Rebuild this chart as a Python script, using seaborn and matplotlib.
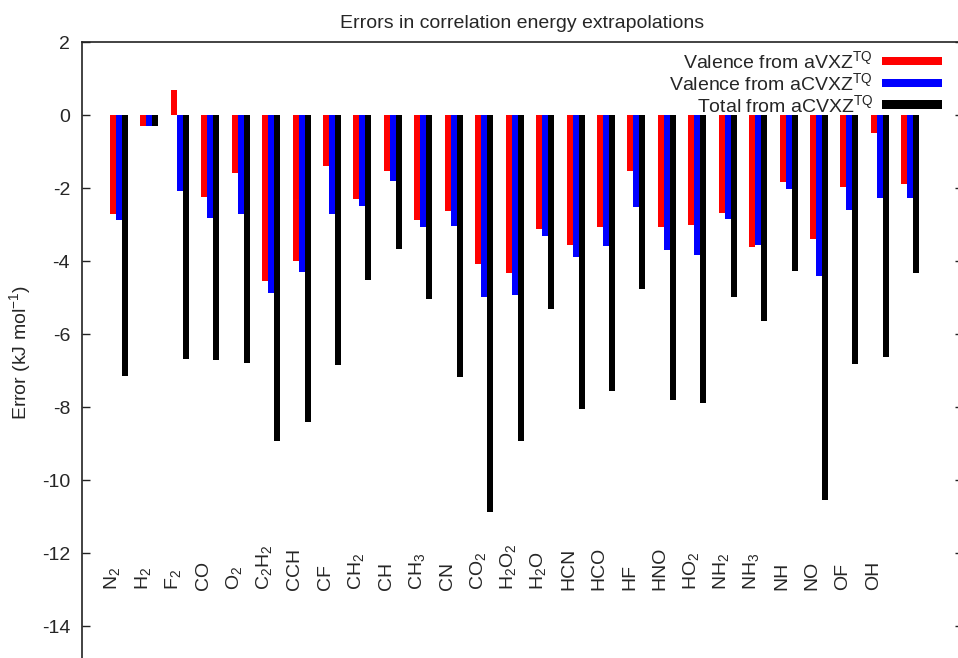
import pandas as pd
import seaborn as sns
import matplotlib.pyplot as plt

# molecules (last group has no label in the original)
molecules = ['N$_2$', 'H$_2$', 'F$_2$', 'CO', 'O$_2$', 'C$_2$H$_2$', 'CCH', 'CF',
             'CH$_2$', 'CH', 'CH$_3$', 'CN', 'CO$_2$', 'H$_2$O$_2$', 'H$_2$O', 'HCN',
             'HCO', 'HF', 'HNO', 'HO$_2$', 'NH$_2$', 'NH$_3$', 'NH', 'NO', 'OF', 'OH', '']

valence_avxz = [-2.70, -0.30, 0.68, -2.26, -1.59, -4.55, -4.00, -1.41, -2.29, -1.54,
                -2.88, -2.62, -4.09, -4.33, -3.12, -3.57, -3.07, -1.53, -3.07, -3.01,
                -2.69, -3.61, -1.83, -3.40, -1.97, -0.48, -1.89]
valence_acvxz = [-2.88, -0.30, -2.08, -2.82, -2.70, -4.87, -4.30, -2.70, -2.48, -1.82,
                 -3.06, -3.04, -4.98, -4.92, -3.32, -3.88, -3.60, -2.53, -3.70, -3.83,
                 -2.84, -3.57, -2.04, -4.41, -2.61, -2.27, -2.28]
total_acvxz = [-7.16, -0.30, -6.68, -6.72, -6.80, -8.94, -8.41, -6.84, -4.53, -3.68,
               -5.05, -7.18, -10.88, -8.92, -5.32, -8.05, -7.55, -4.78, -7.81, -7.89,
               -4.98, -5.65, -4.27, -10.55, -6.81, -6.64, -4.34]

series_names = [r'Valence from aVXZ$^{\rm TQ}$',
                r'Valence from aCVXZ$^{\rm TQ}$',
                r'Total from aCVXZ$^{\rm TQ}$']
colors = ['#ff0000', '#0000ff', '#000000']

# long format table
keys = [f'm{i}' for i in range(len(molecules))]
df = pd.DataFrame({
    'molecule': keys * 3,
    'error': valence_avxz + valence_acvxz + total_acvxz,
    'method': [series_names[0]] * len(keys) + [series_names[1]] * len(keys)
              + [series_names[2]] * len(keys),
})

sns.set_style('white')
plt.rcParams['font.family'] = ['Liberation Sans', 'DejaVu Sans']
plt.rcParams['mathtext.fontset'] = 'custom'
plt.rcParams['mathtext.rm'] = 'Liberation Sans'
plt.rcParams['mathtext.it'] = 'Liberation Sans:italic'
plt.rcParams['mathtext.bf'] = 'Liberation Sans:bold'
plt.rcParams['axes.unicode_minus'] = False

fs = 14

fig = plt.figure(figsize=(9.58, 6.58), dpi=100)
ax = fig.add_axes([0.0856, -0.00684, 0.9196, 0.943])

sns.barplot(data=df, x='molecule', y='error', hue='method', order=keys,
            hue_order=series_names, palette=colors, width=0.59, gap=0,
            saturation=1, errorbar=None, linewidth=0, ax=ax)

ax.set_xlim(-1.215, 27.73)
ax.set_ylim(-15, 2)
ax.set_yticks(range(-14, 3, 2))
ax.set_xticks([])
ax.set_xlabel('')
ax.set_ylabel('Error (kJ mol$^{-1}$)', fontsize=fs, labelpad=6)
ax.set_title('Errors in correlation energy extrapolations', fontsize=fs, pad=10)

ax.tick_params(axis='y', direction='in', length=5.8, width=1, labelsize=fs,
               pad=8.6, left=True, right=True, color='#222222')
for side in ['left', 'top', 'right', 'bottom']:
    ax.spines[side].set_color('#222222')
    ax.spines[side].set_linewidth(1.2)

# molecule labels inside the plot
for i, name in enumerate(molecules):
    ax.text(i - 0.22, -13.0, name, rotation=90, ha='center', va='bottom',
            fontsize=fs)

handles, labels = ax.get_legend_handles_labels()
ax.legend(handles, labels, loc='upper right', bbox_to_anchor=(942 / 958, 1 - 50 / 658),
          bbox_transform=fig.transFigure, frameon=False, markerfirst=False,
          fontsize=fs, handlelength=3.1, handleheight=0.3, handletextpad=0.45,
          labelspacing=0.0, borderpad=0, borderaxespad=0)

fig.savefig('out.png', dpi=100)
